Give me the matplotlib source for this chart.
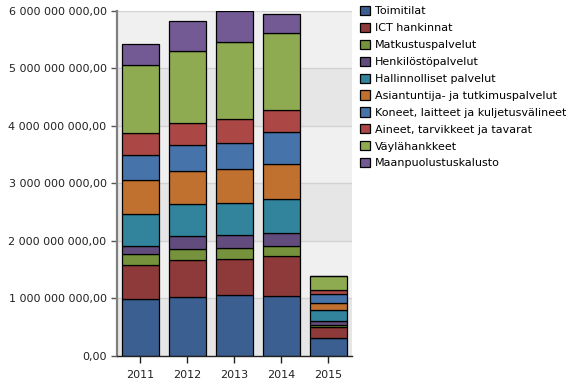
import matplotlib
matplotlib.use("Agg")
import matplotlib.pyplot as plt
import matplotlib.ticker as mt
from matplotlib.patches import Patch
import numpy as np

years = ["2011", "2012", "2013", "2014", "2015"]

categories = [
    "Toimitilat",
    "ICT hankinnat",
    "Matkustuspalvelut",
    "Henkilöstöpalvelut",
    "Hallinnolliset palvelut",
    "Asiantuntija- ja tutkimuspalvelut",
    "Koneet, laitteet ja kuljetusvälineet",
    "Aineet, tarvikkeet ja tavarat",
    "Väylähankkeet",
    "Maanpuolustuskalusto",
]

# euros, billions
toimitilat = [0.984, 1.019, 1.054, 1.042, 0.313]
ict = [0.590, 0.653, 0.630, 0.694, 0.186]
matkustus = [0.190, 0.180, 0.186, 0.168, 0.047]
henkilosto = [0.150, 0.230, 0.231, 0.231, 0.057]
hallinto = [0.550, 0.550, 0.550, 0.590, 0.191]
asiantuntija = [0.585, 0.578, 0.590, 0.602, 0.134]
koneet = [0.450, 0.463, 0.462, 0.556, 0.144]
aineet = [0.380, 0.375, 0.411, 0.382, 0.082]
vayla = [1.180, 1.257, 1.337, 1.337, 0.231]
maanpuolustus = [0.365, 0.509, 0.545, 0.330, 0.0]

series = [toimitilat, ict, matkustus, henkilosto, hallinto,
          asiantuntija, koneet, aineet, vayla, maanpuolustus]

colors = ["#3c5f92", "#8e3a3a", "#76923c", "#624c7d", "#31849b",
          "#c0712f", "#4673aa", "#ab4744", "#8eab52", "#745a95"]


def fi_format(v, pos):
    s = "{:,.2f}".format(v)
    return s.replace(",", " ").replace(".", ",")


fig = plt.figure(figsize=(5.76, 3.83), dpi=100)
ax = fig.add_axes([0.203, 0.0705, 0.408, 0.902])

# alternating horizontal bands
for i in range(6):
    c = "#e6e6e6" if i % 2 == 0 else "#f0f0f0"
    ax.axhspan(i * 1e9, (i + 1) * 1e9, color=c, zorder=0, lw=0)
for i in range(1, 7):
    ax.axhline(i * 1e9, color="#d2d2d2", lw=1, zorder=1)

x = np.arange(len(years))
bottom = np.zeros(len(years))
for vals, col, name in zip(series, colors, categories):
    v = np.array(vals) * 1e9
    ax.bar(x, v, 0.8, bottom=bottom, color=col, edgecolor="black",
           linewidth=0.9, zorder=2, label=name)
    bottom += v

ax.set_xlim(-0.5, 4.5)
ax.set_ylim(0, 6e9)
ax.set_xticks(x)
ax.set_xticklabels(years)
ax.yaxis.set_major_locator(mt.MultipleLocator(1e9))
ax.yaxis.set_major_formatter(mt.FuncFormatter(fi_format))
ax.tick_params(axis="both", labelsize=8, colors="#222222", length=4, width=1)
ax.tick_params(axis="x", length=5, pad=5)
ax.tick_params(axis="y", colors="#555555", labelcolor="#222222")

for s in ["top", "right"]:
    ax.spines[s].set_visible(False)
ax.spines["left"].set_color("#7f7f7f")
ax.spines["left"].set_linewidth(1.6)
ax.spines["bottom"].set_color("#222222")
ax.spines["bottom"].set_linewidth(1)

handles = [Patch(facecolor=c, edgecolor="black", linewidth=0.9) for c in colors]
fig.legend(handles, categories, loc="upper left", bbox_to_anchor=(0.617, 0.996),
           frameon=False, fontsize=8, handlelength=0.9, handleheight=0.9,
           handletextpad=0.45, labelspacing=0.58, borderaxespad=0)

fig.savefig("out.png", dpi=100)
